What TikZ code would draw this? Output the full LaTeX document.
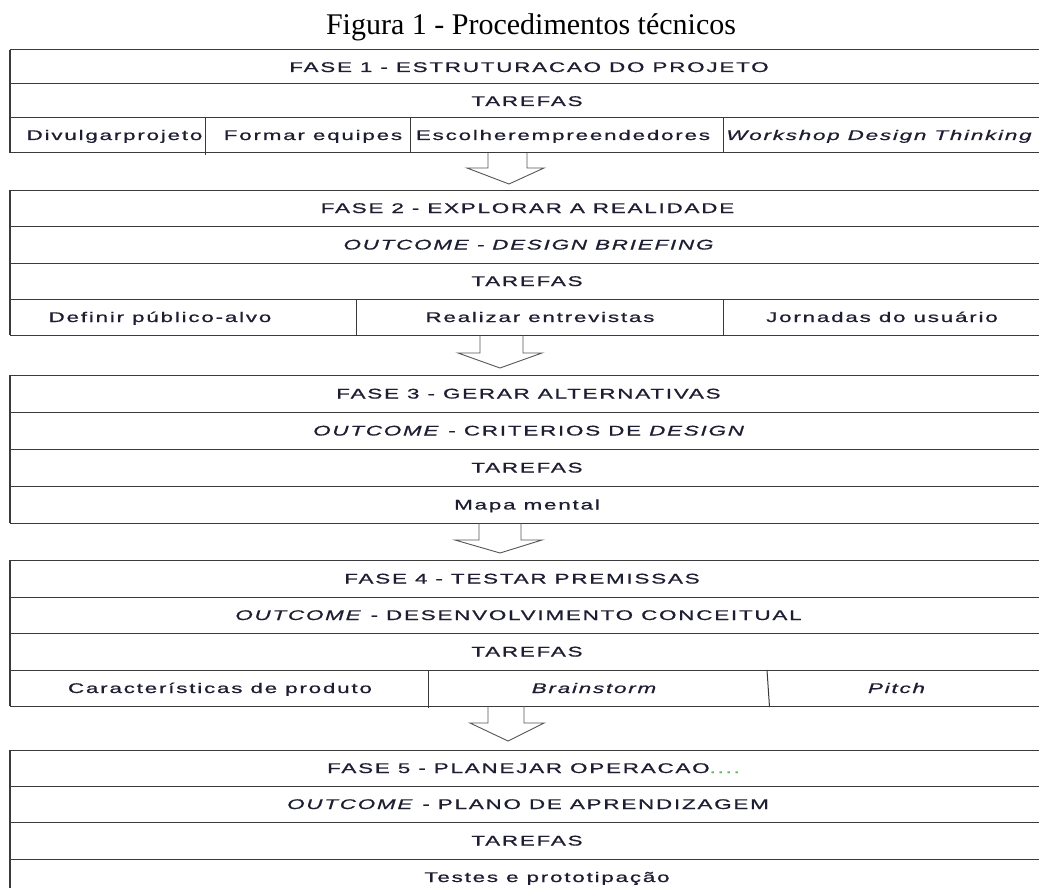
\documentclass[tikz,border=0pt]{standalone}
\usepackage{graphicx}
\usepackage{fontspec}
\setmainfont{Liberation Serif}
\newfontfamily\arialx[LetterSpace=8,FakeBold=0.6]{Liberation Sans}
\newcommand\sx[1]{\scalebox{1.6}[1]{#1}}
\definecolor{ink}{HTML}{1E1E32}
\definecolor{rulec}{HTML}{3A3A3A}
\definecolor{arrowc}{HTML}{555555}
\definecolor{squig}{HTML}{5CB85C}
\begin{document}
\begin{tikzpicture}[x=1pt,y=-1pt,
  rowbox/.style={draw=rulec,line width=1pt},
  leftedge/.style={draw=rulec,line width=2pt},
  txt/.style={font=\arialx\fontsize{14}{16}\selectfont,text=ink,anchor=base,inner sep=0pt},
  blockarrow/.style={draw=arrowc,line width=0.9pt,line join=miter}]
\clip (0,0) rectangle (1039,888);
\fill[white] (0,0) rectangle (1039,888);
% title
\node[font=\fontsize{30}{36}\selectfont,anchor=base,inner sep=0pt] (title) at (531,35) {Figura 1 - Procedimentos técnicos};
% ---------- table 1
\draw[rowbox] (10,50) rectangle (1046,84);
\draw[rowbox] (10,84) rectangle (1046,118);
\draw[rowbox] (10,118) rectangle (1046,153);
\draw[rowbox] (205,118) -- (205,155);
\draw[rowbox] (410,118) -- (410,153);
\draw[rowbox] (723,118) -- (723,153);
\draw[leftedge] (10,50) -- (10,153);
\node[txt] (f1) at (529,72) {\sx{FASE 1 - ESTRUTURACAO DO PROJETO}};
\node[txt] (t1) at (527,106) {\sx{TAREFAS}};
\node[txt] (c11) at (114.5,140) {\sx{Divulgarprojeto}};
\node[txt] (c12) at (313,140) {\sx{Formar equipes}};
\node[txt] (c13) at (563,140) {\sx{Escolherempreendedores}};
\node[txt] (c14) at (879,140) {\sx{\itshape Workshop Design Thinking}};
% arrow 1
\draw[blockarrow] (488,153) -- (488,168) -- (467,168) -- (509,184) -- (544,168) -- (527,168) -- (527,153);
% ---------- table 2
\draw[rowbox] (10,190) rectangle (1046,226);
\draw[rowbox] (10,226) rectangle (1046,263);
\draw[rowbox] (10,263) rectangle (1046,299);
\draw[rowbox] (10,299) rectangle (1046,335);
\draw[rowbox] (356,299) -- (356,335);
\draw[rowbox] (723,299) -- (723,335);
\draw[leftedge] (10,190) -- (10,335);
\node[txt] (f2) at (527.5,213) {\sx{FASE 2 - EXPLORAR A REALIDADE}};
\node[txt] (o2) at (528.5,249.5) {\sx{\itshape OUTCOME - DESIGN BRIEFING}};
\node[txt] (t2) at (527,286) {\sx{TAREFAS}};
\node[txt] (c21) at (160,322) {\sx{Definir público-alvo}};
\node[txt] (c22) at (540,322) {\sx{Realizar entrevistas}};
\node[txt] (c23) at (882,322) {\sx{Jornadas do usuário}};
% arrow 2
\draw[blockarrow] (480,335) -- (480,353) -- (458,353) -- (500,368) -- (542,353) -- (523,353) -- (523,335);
% ---------- table 3
\draw[rowbox] (10,375) rectangle (1046,412);
\draw[rowbox] (10,412) rectangle (1046,449);
\draw[rowbox] (10,449) rectangle (1046,486);
\draw[rowbox] (10,486) rectangle (1046,523);
\draw[leftedge] (10,375) -- (10,523);
\node[txt] (f3) at (528.5,398.5) {\sx{FASE 3 - GERAR ALTERNATIVAS}};
\node[txt] (o3) at (529.5,435.5) {\sx{\textit{OUTCOME} - CRITERIOS DE \textit{DESIGN}}};
\node[txt] (t3) at (527,472.5) {\sx{TAREFAS}};
\node[txt] (c31) at (527,509.5) {\sx{Mapa mental}};
% arrow 3
\draw[blockarrow] (479,523) -- (479,540) -- (455,540) -- (500,553) -- (542,540) -- (521,540) -- (521,523);
% ---------- table 4
\draw[rowbox] (10,560) rectangle (1046,597);
\draw[rowbox] (10,597) rectangle (1046,633);
\draw[rowbox] (10,633) rectangle (1046,670);
\draw[rowbox] (10,670) rectangle (1046,706);
\draw[rowbox] (428,670) -- (428,708);
\draw[rowbox] (767,670) -- (769.5,707);
\draw[leftedge] (10,560) -- (10,706);
\node[txt] (f4) at (522,583.5) {\sx{FASE 4 - TESTAR PREMISSAS}};
\node[txt] (o4) at (518.5,620) {\sx{\textit{OUTCOME} - DESENVOLVIMENTO CONCEITUAL}};
\node[txt] (t4) at (527,656.5) {\sx{TAREFAS}};
\node[txt] (c41) at (220,693) {\sx{Características de produto}};
\node[txt] (c42) at (594,693) {\sx{\itshape Brainstorm}};
\node[txt] (c43) at (896.5,693) {\sx{\itshape Pitch}};
% arrow 4
\draw[blockarrow] (488,706) -- (488,723) -- (470,723) -- (508,741) -- (544,723) -- (524,723) -- (524,706);
% ---------- table 5
\draw[rowbox] (10,750) rectangle (1046,786);
\draw[rowbox] (10,786) rectangle (1046,822);
\draw[rowbox] (10,822) rectangle (1046,859);
\draw[rowbox] (10,859) rectangle (1046,900);
\draw[leftedge] (10,750) -- (10,900);
\node[txt,anchor=base west] (f5) at (327,773) {\sx{FASE 5 - PLANEJAR OPERACAO\textcolor{squig}{....}}};
\node[txt] (o5) at (528,809) {\sx{\textit{OUTCOME} - PLANO DE APRENDIZAGEM}};
\node[txt] (t5) at (527,845.5) {\sx{TAREFAS}};
\node[txt] (c51) at (547,882) {\sx{Testes e prototipação}};
\end{tikzpicture}
\end{document}
